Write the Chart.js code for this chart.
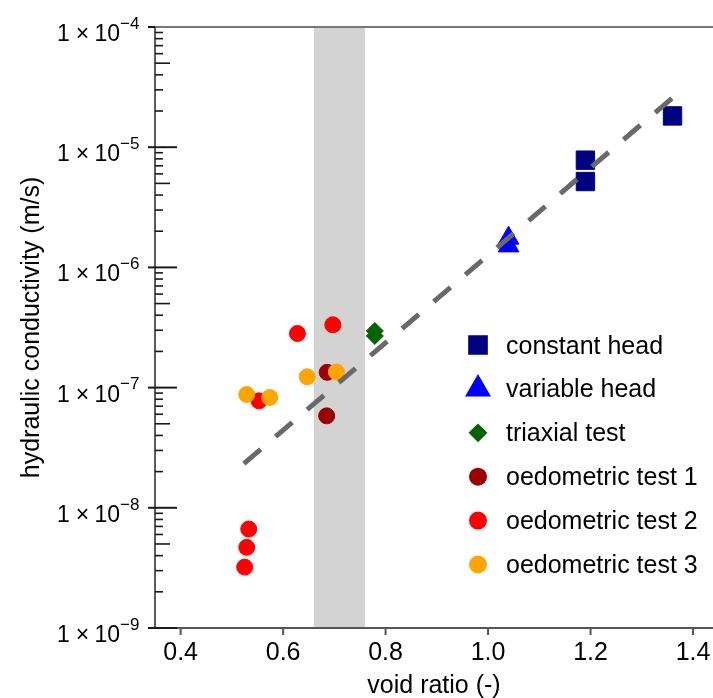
<!DOCTYPE html>
<html>
<head>
<meta charset="utf-8">
<script src="https://cdn.jsdelivr.net/npm/chart.js@4.4.0/dist/chart.umd.min.js"></script>
<style>
    html, body { margin: 0; padding: 0; background: #fff; overflow: hidden; }
    canvas { display: block; }
</style>
</head>
<body>
<canvas id="chart" width="713" height="698"></canvas>
<script>
// measured void ratio (e) and hydraulic conductivity k (m/s) per test type
const constantHeadE = [1.19, 1.19, 1.36];
const constantHeadK = [7.8e-6, 5.18e-6, 1.82e-5];

const variableHeadE = [1.04, 1.04];
const variableHeadK = [1.75e-6, 1.51e-6];

const triaxialE = [0.779, 0.779];
const triaxialK = [2.96e-7, 2.69e-7];

const oedo1E = [0.685, 0.686];
const oedo1K = [5.82e-8, 1.34e-7];

const oedo2E = [0.628, 0.697, 0.553, 0.533, 0.529, 0.525];
const oedo2K = [2.82e-7, 3.33e-7, 7.76e-8, 6.65e-9, 4.69e-9, 3.21e-9];

const oedo3E = [0.529, 0.574, 0.647, 0.704];
const oedo3K = [8.77e-8, 8.28e-8, 1.23e-7, 1.35e-7];

// log-linear fit through all tests
const fitE = [0.5235, 1.3587];
const fitK = [2.33e-8, 2.55e-5];

// void ratio range of the in-situ soil
const bandRange = [0.66, 0.76];

const xTicks = [0.4, 0.6, 0.8, 1.0, 1.2, 1.4];
const yExponents = [-9, -8, -7, -6, -5, -4];

const FONT = '"Liberation Sans", Arial, sans-serif';

const toPoints = (xs, ys) => xs.map((x, i) => ({ x, y: ys[i] }));

const series = [
    { label: 'constant head', e: constantHeadE, k: constantHeadK, color: '#000080', style: 'rect', radius: 13, legendRadius: 12.5 },
    { label: 'variable head', e: variableHeadE, k: variableHeadK, color: '#0000ff', style: 'triangle', radius: 12, legendRadius: 13 },
    { label: 'triaxial test', e: triaxialE, k: triaxialK, color: '#006400', style: 'rectRot', radius: 8.5, legendRadius: 8 },
    { label: 'oedometric test 1', e: oedo1E, k: oedo1K, color: '#9a0000', style: 'circle', radius: 8, legendRadius: 8 },
    { label: 'oedometric test 2', e: oedo2E, k: oedo2K, color: '#ff0000', style: 'circle', radius: 8, legendRadius: 8 },
    { label: 'oedometric test 3', e: oedo3E, k: oedo3K, color: '#ffa500', style: 'circle', radius: 8, legendRadius: 8 }
];

const datasets = series.map((s, i) => ({
    label: s.label,
    data: toPoints(s.e, s.k),
    pointStyle: s.style,
    pointRadius: s.radius,
    backgroundColor: s.color,
    borderColor: s.color,
    borderWidth: 1,
    order: series.length - i
}));

datasets.push({
    type: 'line',
    label: 'fit',
    data: toPoints(fitE, fitK),
    borderColor: '#696969',
    borderWidth: 5,
    borderDash: [22, 19.6],
    borderCapStyle: 'butt',
    pointRadius: 0,
    fill: false,
    order: 0
});

// grey band behind the points
const bandPlugin = {
    id: 'band',
    beforeDatasetsDraw(chart) {
        const { ctx, chartArea, scales: { x } } = chart;
        const x0 = x.getPixelForValue(bandRange[0]);
        const x1 = x.getPixelForValue(bandRange[1]);
        ctx.save();
        ctx.fillStyle = '#d3d3d3';
        ctx.fillRect(x0, chartArea.top, x1 - x0, chartArea.bottom - chartArea.top);
        ctx.restore();
    }
};

// axes, ticks, labels and the legend
const framePlugin = {
    id: 'frame',
    afterDraw(chart) {
        const { ctx, chartArea: area, scales: { x, y } } = chart;
        ctx.save();

        // top line and x axis
        ctx.lineWidth = 2;
        ctx.strokeStyle = '#777';
        ctx.beginPath();
        ctx.moveTo(area.left - 7, area.top);
        ctx.lineTo(area.right, area.top);
        ctx.stroke();

        ctx.strokeStyle = '#555';
        ctx.beginPath();
        ctx.moveTo(area.left - 7, area.bottom);
        ctx.lineTo(area.right, area.bottom);
        ctx.stroke();

        // y axis
        ctx.strokeStyle = '#333';
        ctx.lineWidth = 1.6;
        ctx.beginPath();
        ctx.moveTo(area.left, area.top);
        ctx.lineTo(area.left, area.bottom);
        ctx.stroke();

        // y ticks: decades cross the axis, minors point inward
        ctx.strokeStyle = '#1a1a1a';
        yExponents.forEach((p, idx) => {
            const yp = y.getPixelForValue(Math.pow(10, p));
            ctx.lineWidth = 2;
            ctx.beginPath();
            ctx.moveTo(area.left - 7, yp);
            ctx.lineTo(area.left + (idx === yExponents.length - 1 ? 0 : 22), yp);
            ctx.stroke();
            if (idx === yExponents.length - 1) return;
            ctx.lineWidth = 1.6;
            for (let m = 2; m <= 9; m++) {
                const ym = y.getPixelForValue(m * Math.pow(10, p));
                ctx.beginPath();
                ctx.moveTo(area.left, ym);
                ctx.lineTo(area.left + (m === 5 ? 15 : 8), ym);
                ctx.stroke();
            }
        });

        // y tick labels: 1 x 10^p, pieces placed one by one
        ctx.fillStyle = '#000';
        ctx.textBaseline = 'alphabetic';
        yExponents.forEach(p => {
            const yp = y.getPixelForValue(Math.pow(10, p));
            const base = yp + 14;
            ctx.font = '23px ' + FONT;
            ctx.textAlign = 'left';
            ctx.fillText('1', 57, base);
            ctx.textAlign = 'center';
            ctx.fillText('\u00d7', 82.5, base);
            ctx.textAlign = 'right';
            ctx.fillText('10', 120, base);
            ctx.font = '17px ' + FONT;
            ctx.textAlign = 'left';
            ctx.fillText('\u2212' + Math.abs(p), 120, yp + 1.8);
        });

        // x ticks and labels
        ctx.strokeStyle = '#555';
        ctx.lineWidth = 2;
        ctx.font = '25px ' + FONT;
        ctx.textAlign = 'center';
        xTicks.forEach(v => {
            const xp = x.getPixelForValue(v);
            ctx.beginPath();
            ctx.moveTo(xp, area.bottom);
            ctx.lineTo(xp, area.bottom + 7);
            ctx.stroke();
            ctx.fillText(v.toFixed(1), xp, area.bottom + 32);
        });

        // axis titles
        ctx.fillText('void ratio (-)', (area.left + area.right) / 2, 693);
        ctx.save();
        ctx.translate(38.5, (area.top + area.bottom) / 2);
        ctx.rotate(-Math.PI / 2);
        ctx.fillText('hydraulic conductivity (m/s)', 0, 0);
        ctx.restore();

        // legend
        const legendX = 478;
        const legendTop = 345;
        const rowGap = 43.9;
        ctx.font = '25px ' + FONT;
        ctx.textAlign = 'left';
        series.forEach((s, i) => {
            const ly = legendTop + i * rowGap;
            ctx.fillStyle = s.color;
            ctx.strokeStyle = s.color;
            Chart.helpers.drawPoint(ctx, {
                pointStyle: s.style,
                radius: s.legendRadius,
                rotation: 0,
                borderWidth: 1
            }, legendX, ly);
            ctx.fillStyle = '#000';
            ctx.fillText(s.label, 506, ly + 8.5);
        });

        ctx.restore();
    }
};

new Chart(document.getElementById('chart'), {
    type: 'scatter',
    data: { datasets },
    options: {
        responsive: false,
        animation: false,
        layout: {
            autoPadding: false,
            padding: { left: 155, right: 0, top: 27, bottom: 70 }
        },
        scales: {
            x: { type: 'linear', display: false, min: 0.35, max: 1.439 },
            y: { type: 'logarithmic', display: false, min: 1e-9, max: 1e-4 }
        },
        plugins: {
            legend: { display: false },
            tooltip: { enabled: false }
        }
    },
    plugins: [bandPlugin, framePlugin]
});
</script>
</body>
</html>
